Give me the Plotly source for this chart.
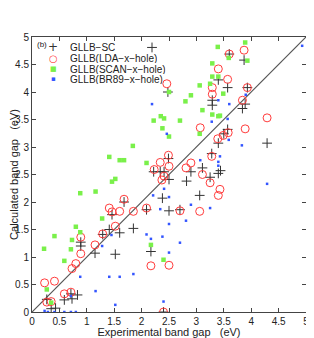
import plotly.graph_objects as go

# GLLB-SC
sc_x = [2.19, 2.48, 3.60, 3.87, 3.40, 3.57, 3.93, 3.29, 3.29, 3.89, 3.84, 3.57, 3.50, 3.40, 4.29,
        3.28, 2.49, 3.11, 2.22, 2.34, 2.41, 2.90, 3.40, 3.44, 2.50, 2.82, 3.25, 3.06, 2.38, 1.68,
        2.09, 2.50, 2.70, 1.46, 1.85, 1.41, 1.60, 1.29, 2.17, 1.15, 1.52, 0.89, 0.89, 0.71, 0.83,
        0.73, 0.59, 0.27, 0.35, 0.43, 2.40]
sc_y = [4.81, 4.00, 4.69, 4.58, 4.22, 4.08, 4.08, 3.85, 3.76, 3.78, 3.70, 3.32, 3.24, 3.07, 3.07,
        2.88, 2.79, 2.62, 2.55, 2.55, 2.55, 2.55, 2.52, 2.57, 2.41, 2.38, 2.45, 2.12, 2.07, 2.00,
        1.86, 1.84, 1.86, 1.77, 1.52, 1.50, 1.44, 1.41, 1.10, 1.07, 1.05, 1.27, 1.20, 0.33, 0.31,
        0.24, 0.22, 0.23, 0.06, 0.07, 0.00]

# GLLB(LDA-x-hole)
lda_x = [2.46, 3.87, 3.60, 3.40, 3.57, 3.29, 3.93, 3.29, 3.84, 4.29, 3.89, 3.58, 3.49, 3.39, 3.07,
         3.28, 2.49, 2.34, 2.50, 2.90, 2.81, 2.23, 3.11, 2.41, 2.37, 3.25, 3.43, 3.40, 1.68, 1.41,
         1.46, 1.60, 1.85, 2.09, 2.70, 3.06, 1.52, 1.29, 0.89, 1.15, 0.89, 0.80, 0.73, 0.23, 0.41,
         0.59, 0.71, 0.27, 0.35, 2.17, 2.50, 2.40]
lda_y = [4.15, 4.76, 4.69, 4.42, 4.23, 4.08, 4.08, 3.96, 3.85, 3.53, 3.33, 3.26, 3.21, 3.15, 3.35,
         2.83, 2.85, 2.72, 2.65, 2.71, 2.62, 2.59, 2.50, 2.47, 2.40, 2.35, 2.23, 2.12, 2.05, 1.89,
         1.82, 1.83, 1.83, 1.89, 1.84, 1.83, 1.56, 1.42, 1.36, 1.22, 1.06, 0.88, 0.79, 0.53, 0.56,
         0.33, 0.36, 0.18, 0.19, 0.84, 0.85, 0.00]

# GLLB(SCAN-x-hole)
scan_x = [3.89, 3.39, 3.59, 3.93, 3.29, 3.29, 3.40, 2.50, 3.06, 3.25, 2.90, 2.80, 3.49, 3.11, 3.29,
          3.40, 3.43, 2.35, 2.41, 2.22, 2.70, 2.38, 2.50, 3.06, 1.84, 1.41, 1.60, 1.68, 2.09, 1.52,
          1.46, 0.88, 1.16, 1.28, 0.80, 0.88, 0.41, 0.73, 0.22, 0.71, 0.59, 0.27, 0.35, 2.17, 2.40]
scan_y = [4.90, 4.82, 4.62, 4.57, 4.52, 4.28, 4.28, 4.00, 4.12, 4.15, 3.94, 3.83, 3.97, 3.67, 3.59,
          3.56, 3.57, 3.56, 3.52, 3.48, 3.48, 3.34, 3.19, 3.24, 3.02, 2.82, 2.76, 2.76, 2.71, 2.42,
          2.37, 2.16, 2.19, 1.70, 1.55, 1.45, 1.38, 1.31, 1.15, 1.14, 0.93, 0.41, 0.17, 1.22, 0.95]

# GLLB(BR89-x-hole)
br_x = [4.93, 2.19, 3.90, 3.40, 3.60, 3.28, 3.57, 2.46, 3.59, 3.83, 3.07, 3.43, 3.40, 3.40, 4.29,
        2.41, 2.21, 2.50, 2.90, 3.25, 2.34, 2.81, 2.50, 2.09, 2.17, 2.38, 2.70, 2.50, 1.85, 1.41,
        1.60, 0.88, 1.16, 1.52, 2.40, 1.45, 1.28, 0.71, 0.23, 0.29, 0.41, 0.59, 0.71, 0.80]
br_y = [4.84, 3.78, 3.95, 3.85, 3.78, 3.46, 3.51, 3.24, 3.13, 3.03, 2.76, 2.83, 2.73, 2.66, 2.33,
        2.24, 2.12, 2.09, 1.95, 1.89, 1.87, 1.66, 1.60, 1.41, 1.33, 1.37, 1.26, 1.08, 0.69, 0.64,
        0.64, 0.64, 0.38, 0.13, 0.19, 1.40, 1.20, 0.29, 0.02, 0.00, 0.00, 0.00, 0.00, 0.00]

diag = [0, 5]
ticks = [0, 0.5, 1, 1.5, 2, 2.5, 3, 3.5, 4, 4.5, 5]
tick_text = ["0", "0.5", "1", "1.5", "2", "2.5", "3", "3.5", "4", "4.5", "5"]

series_names = ["GLLB\u2212SC", "GLLB(LDA\u2212x\u2212hole)", "GLLB(SCAN\u2212x\u2212hole)",
                "GLLB(BR89\u2212x\u2212hole)"]
series_colors = ["#333333", "#ff3b3b", "#7af04a", "#3355ff"]
legend_glyphs = ["+", "\u25cb", "\u25a0", "\u25aa"]

FONT = "Liberation Sans, Arial, sans-serif"

fig = go.Figure()
fig.add_trace(go.Scatter(x=diag, y=diag, mode="lines", line=dict(color="#555555", width=1.2),
                         showlegend=False, hoverinfo="skip"))
fig.add_trace(go.Scatter(x=sc_x, y=sc_y, mode="markers", name=series_names[0],
                         marker=dict(symbol="cross-thin-open", size=7, color=series_colors[0],
                                     line=dict(width=1, color=series_colors[0]))))
fig.add_trace(go.Scatter(x=lda_x, y=lda_y, mode="markers", name=series_names[1],
                         marker=dict(symbol="circle-open", size=8, color=series_colors[1],
                                     line=dict(width=1, color=series_colors[1]))))
fig.add_trace(go.Scatter(x=scan_x, y=scan_y, mode="markers", name=series_names[2],
                         marker=dict(symbol="square", size=4.5, color=series_colors[2],
                                     line=dict(width=0))))
fig.add_trace(go.Scatter(x=br_x, y=br_y, mode="markers", name=series_names[3],
                         marker=dict(symbol="square", size=2.5, color=series_colors[3],
                                     line=dict(width=0))))

axis_common = dict(range=[0, 5], tickvals=ticks, ticktext=tick_text, ticks="inside", ticklen=4,
                   tickcolor="#444444", showline=True, linecolor="#444444", linewidth=1,
                   mirror="ticks", showgrid=False, zeroline=False, automargin=False,
                   tickfont=dict(family=FONT, size=10, color="#222222"))

# legend drawn compactly (as in the reference) with annotations
annotations = [dict(text="(b)", x=0.01, y=0.995, xref="paper", yref="paper",
                    xanchor="left", yanchor="top", showarrow=False,
                    font=dict(family=FONT, size=8, color="#222222"))]
row_y = [0.963, 0.924, 0.885, 0.847]
glyph_sizes = [12, 10, 7, 7]
for name, col, gl, gs, ry in zip(series_names, series_colors, legend_glyphs, glyph_sizes, row_y):
    annotations.append(dict(text=gl, x=0.078, y=ry, xref="paper", yref="paper",
                            xanchor="center", yanchor="middle", showarrow=False, height=10,
                            font=dict(family="DejaVu Sans", size=gs, color=col)))
    annotations.append(dict(text=name, x=0.133, y=ry, xref="paper", yref="paper",
                            xanchor="left", yanchor="middle", showarrow=False, height=10,
                            font=dict(family=FONT, size=10, color="#222222")))

# the page body adds an 8 px offset; size the figure so it fits the visible window
fig.update_layout(
    width=306, height=330,
    margin=dict(l=24, r=8, t=29, b=26),
    paper_bgcolor="white", plot_bgcolor="white",
    font=dict(family=FONT, size=10, color="#222222"),
    xaxis=dict(**axis_common, title=dict(text="Experimental band gap   (eV)",
                                         font=dict(family=FONT, size=11))),
    yaxis=dict(**axis_common, title=dict(text="Calculated band gap   (eV)",
                                         font=dict(family=FONT, size=11))),
    showlegend=False,
    annotations=annotations,
)

fig.write_html("out.html")
